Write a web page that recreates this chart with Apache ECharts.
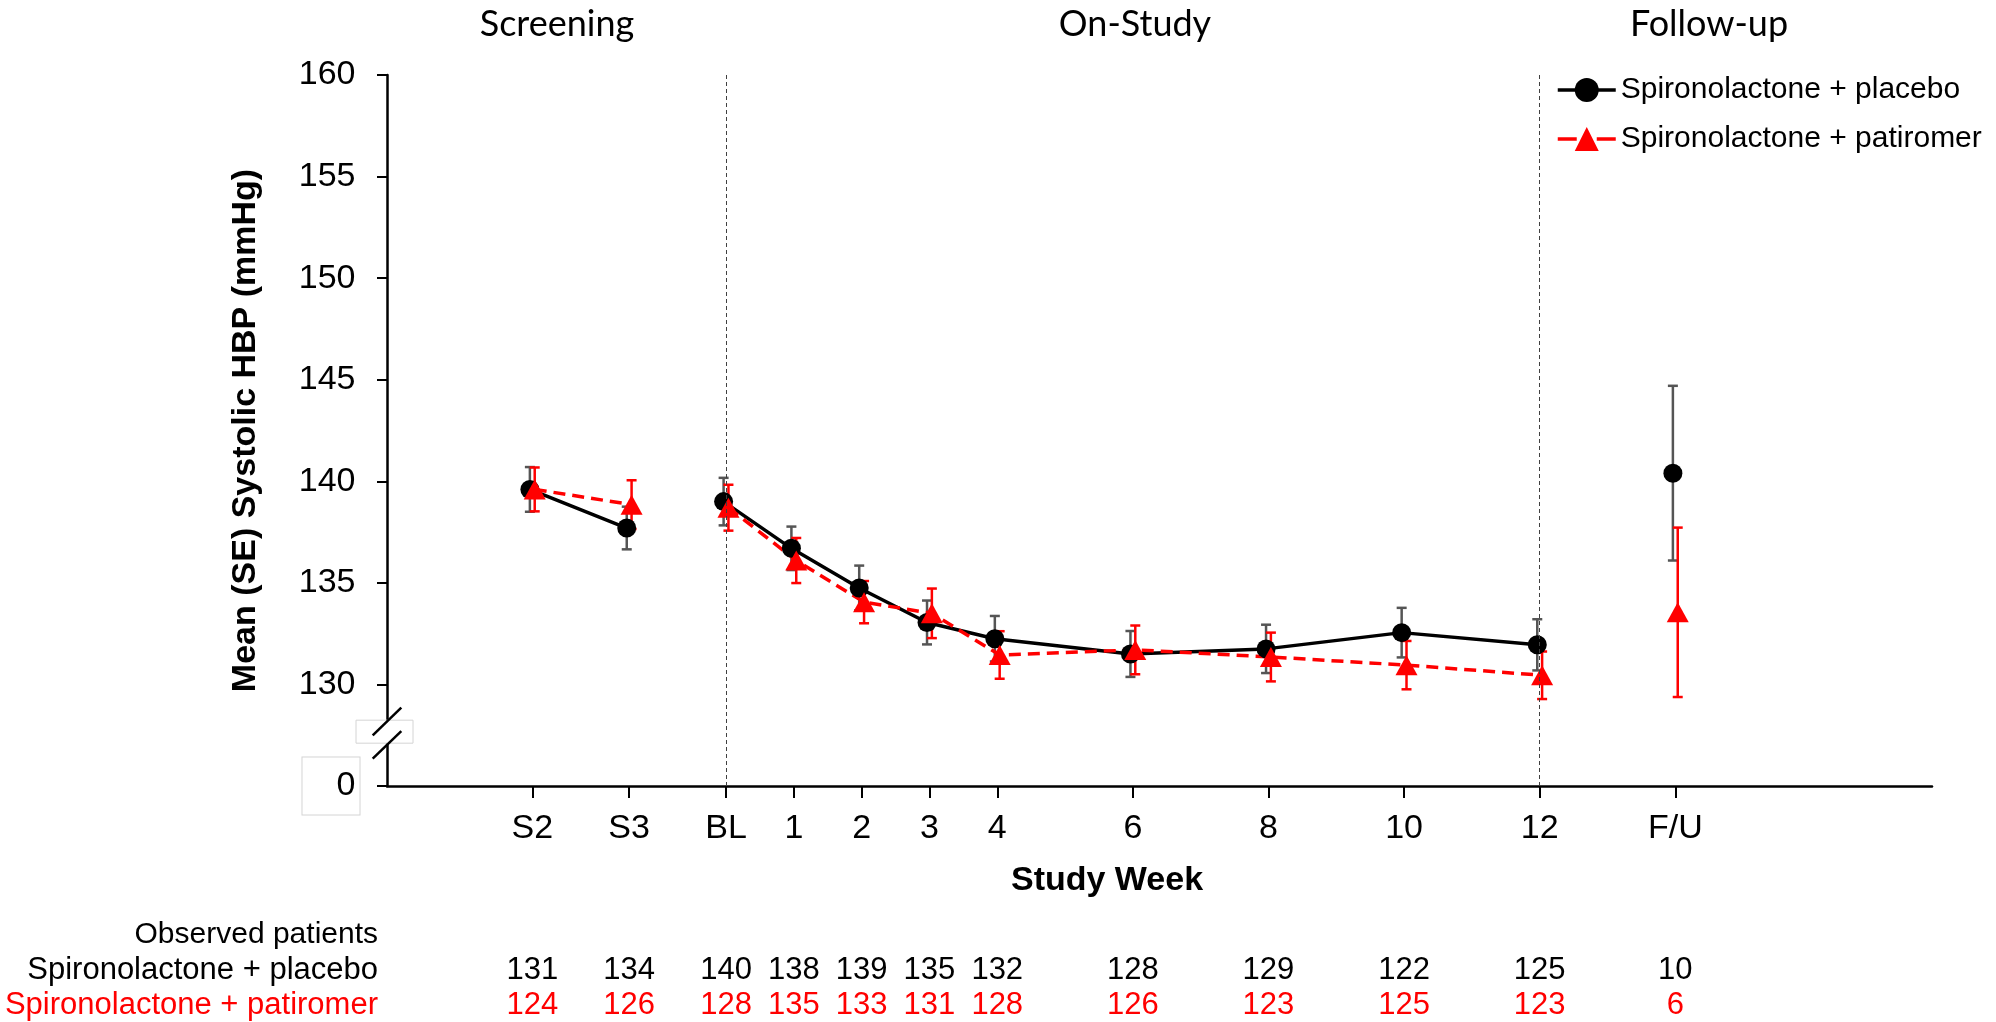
<!DOCTYPE html>
<html>
<head>
<meta charset="utf-8">
<script src="https://cdn.jsdelivr.net/npm/echarts@6/dist/echarts.min.js"></script>
<style>
  html, body { margin: 0; padding: 0; background: #fff; }
  #chart { width: 1996px; height: 1022px; }
</style>
</head>
<body>
<div id="chart"></div>
<script>
// visits, their place on the time line (days from baseline) and study phase
const visits = ['S2', 'S3', 'BL', '1', '2', '3', '4', '6', '8', '10', '12', 'F/U']
const visitDay = [-20, -10, 0, 7, 14, 21, 28, 42, 56, 70, 84, 98]
const visitPhase = ['screen', 'screen', 'study', 'study', 'study', 'study', 'study',
  'study', 'study', 'study', 'study', 'followup']
const phaseBoundaryDays = [0, 84]

const placeboMean = [139.6, 137.7, 139.0, 136.7, 134.75, 133.05, 132.25, 131.5, 131.75, 132.55, 131.95, 140.4]
const placeboSE = [1.1, 1.05, 1.17, 1.07, 1.1, 1.08, 1.12, 1.13, 1.19, 1.22, 1.26, 4.3]
const patiromerMean = [139.6, 138.85, 138.7, 136.1, 134.05, 133.5, 131.45, 131.7, 131.35, 130.95, 130.45, 133.55]
const patiromerSE = [1.08, 1.2, 1.13, 1.11, 1.04, 1.22, 1.17, 1.2, 1.2, 1.19, 1.17, 4.17]

// observed patients per visit
const placeboN = [131, 134, 140, 138, 139, 135, 132, 128, 129, 122, 125, 10]
const patiromerN = [124, 126, 128, 135, 133, 131, 128, 126, 123, 125, 123, 6]

const placeboName = 'Spironolactone + placebo'
const patiromerName = 'Spironolactone + patiromer'

const FONT = '"Liberation Sans", Arial, sans-serif'
const RED = '#ff0000'
const DODGE = 0.25 // small horizontal offset between the two groups (days)
const Y_FLOOR = 125 // bottom of the broken axis, shown as 0

function lineData (mean, dodge) {
  const out = []
  visitDay.forEach((d, i) => {
    // no line joins points of different phases
    if (i > 0 && visitPhase[i] !== visitPhase[i - 1]) out.push([d + dodge, null])
    out.push([d + dodge, mean[i]])
  })
  return out
}

function errorSeries (mean, se, color, dodge) {
  return {
    type: 'custom',
    silent: true,
    encode: { x: 0, y: [1, 2] },
    data: visitDay.map((d, i) => [d + dodge, mean[i] + se[i], mean[i] - se[i]]),
    renderItem: function (params, api) {
      const x = api.value(0)
      const hi = api.coord([x, api.value(1)])
      const lo = api.coord([x, api.value(2)])
      const cap = 5
      const style = { stroke: color, lineWidth: 2.5, fill: null }
      return {
        type: 'group',
        children: [
          { type: 'line', shape: { x1: hi[0], y1: hi[1], x2: lo[0], y2: lo[1] }, style: style },
          { type: 'line', shape: { x1: hi[0] - cap, y1: hi[1], x2: hi[0] + cap, y2: hi[1] }, style: style },
          { type: 'line', shape: { x1: lo[0] - cap, y1: lo[1], x2: lo[0] + cap, y2: lo[1] }, style: style }
        ]
      }
    }
  }
}

const chart = echarts.init(document.getElementById('chart'))

const option = {
  animation: false,
  backgroundColor: '#fff',
  grid: { left: 387, right: 64, top: 75, bottom: 236 },
  legend: {
    orient: 'vertical',
    left: 1551,
    top: 70,
    itemWidth: 58,
    itemHeight: 30,
    itemGap: 19,
    textStyle: { fontFamily: FONT, fontSize: 30, color: '#000' },
    data: [
      { name: placeboName, lineStyle: { width: 3.5 } },
      { name: patiromerName, lineStyle: { width: 3.5, type: [19, 20] } }
    ]
  },
  xAxis: {
    type: 'value',
    min: -35,
    max: 124.5,
    splitLine: { show: false },
    axisLine: { show: true, onZero: false, lineStyle: { color: '#000', width: 2.5 } },
    axisTick: { show: true, customValues: visitDay, length: 12, lineStyle: { color: '#000', width: 2 } },
    axisLabel: {
      customValues: visitDay,
      margin: 26,
      fontFamily: FONT,
      fontSize: 34,
      color: '#000',
      formatter: v => visits[visitDay.indexOf(v)]
    }
  },
  yAxis: {
    type: 'value',
    min: Y_FLOOR,
    max: 160,
    interval: 5,
    splitLine: { show: false },
    axisLine: { show: true, onZero: false, lineStyle: { color: '#000', width: 2.5 } },
    axisTick: { show: true, length: 10, lineStyle: { color: '#000', width: 2 } },
    axisLabel: {
      margin: 27.5,
      formatter: v => v === Y_FLOOR ? '{box|0}' : '{n|' + v + '}',
      rich: {
        n: { fontFamily: FONT, fontSize: 34, color: '#000', padding: [0, 4, 0, 0] },
        box: {
          fontFamily: FONT, fontSize: 34, color: '#000', align: 'right',
          width: 53, height: 57, padding: [0, 4, 0, 0],
          borderColor: '#d4d4d4', borderWidth: 1, backgroundColor: '#fff'
        }
      }
    },
    name: 'Mean (SE) Systolic HBP (mmHg)',
    nameLocation: 'middle',
    nameGap: 124,
    nameTextStyle: { fontFamily: FONT, fontSize: 34, fontWeight: 'bold', color: '#000' }
  },
  series: [
    errorSeries(placeboMean, placeboSE, '#555555', -DODGE),
    {
      name: placeboName,
      type: 'line',
      data: lineData(placeboMean, -DODGE),
      connectNulls: false,
      symbol: 'circle',
      symbolSize: 19,
      color: '#000',
      itemStyle: { color: '#000' },
      lineStyle: { color: '#000', width: 3.5 },
      markLine: {
        silent: true,
        symbol: 'none',
        label: { show: false },
        lineStyle: { color: '#404040', width: 1, type: [4, 3] },
        data: phaseBoundaryDays.map(d => ({ xAxis: d }))
      }
    },
    errorSeries(patiromerMean, patiromerSE, RED, DODGE),
    {
      name: patiromerName,
      type: 'line',
      data: lineData(patiromerMean, DODGE),
      connectNulls: false,
      symbol: 'triangle',
      symbolSize: [22, 20],
      color: RED,
      itemStyle: { color: RED },
      lineStyle: { color: RED, width: 3.5, type: [12, 7] }
    }
  ]
}

chart.setOption(option)

// annotations placed from the axis scales
const px = (x, y) => chart.convertToPixel({ gridIndex: 0 }, [x, y])
const axisX = px(-35, Y_FLOOR)[0]
const breakY = px(0, 127.6)[1]
const rowY = [935, 970, 1005]

const graphics = []

// axis break marks
graphics.push({
  type: 'rect', z: 100,
  shape: { x: axisX - 31, y: breakY - 13, width: 57, height: 23 },
  style: { fill: '#fff', stroke: '#d4d4d4', lineWidth: 1 }
})
;[-11.7, 11.7].forEach(off => {
  graphics.push({
    type: 'line', z: 101,
    shape: { x1: axisX - 14.3, y1: breakY + off + 13.8, x2: axisX + 14.3, y2: breakY + off - 13.8 },
    style: { stroke: '#000', lineWidth: 2.5 }
  })
})

// phase headers
const headers = [['Screening', 557], ['On-Study', 1135], ['Follow-up', 1709]]
headers.forEach(h => {
  graphics.push({
    type: 'text', x: h[1], y: 24,
    style: { text: h[0], font: '36px Lato, "Open Sans", sans-serif', fill: '#000', align: 'center', verticalAlign: 'middle' }
  })
})

// x axis title
graphics.push({
  type: 'text', x: 1107, y: 881,
  style: { text: 'Study Week', font: 'bold 34px ' + FONT, fill: '#000', align: 'center', verticalAlign: 'middle' }
})

// observed patients table
const rowLabels = [['Observed patients', '#000', 30], [placeboName, '#000', 31], [patiromerName, RED, 31]]
rowLabels.forEach((r, i) => {
  graphics.push({
    type: 'text', x: 378, y: rowY[i],
    style: { text: r[0], font: r[2] + 'px ' + FONT, fill: r[1], align: 'right', verticalAlign: 'middle' }
  })
})
visitDay.forEach((d, i) => {
  const x = px(d, Y_FLOOR)[0]
  graphics.push({
    type: 'text', x: x, y: rowY[1],
    style: { text: String(placeboN[i]), font: '31px ' + FONT, fill: '#000', align: 'center', verticalAlign: 'middle' }
  })
  graphics.push({
    type: 'text', x: x, y: rowY[2],
    style: { text: String(patiromerN[i]), font: '31px ' + FONT, fill: RED, align: 'center', verticalAlign: 'middle' }
  })
})

chart.setOption({ graphic: graphics })
</script>
</body>
</html>
